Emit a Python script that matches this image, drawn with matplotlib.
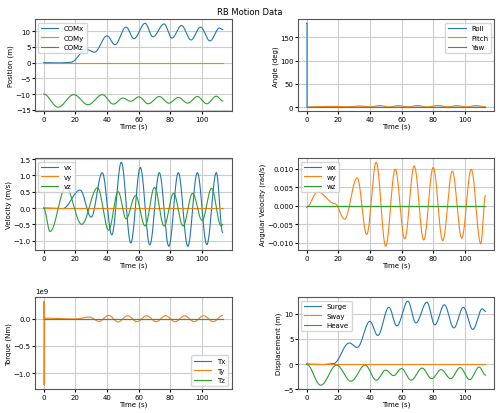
import numpy as np
import matplotlib
matplotlib.use("Agg")
import matplotlib.pyplot as plt

# extrema (time, value)
comx_t = [0, 10, 17, 27, 32, 40, 45, 52, 57, 64, 69, 76, 81, 87, 93, 99, 105, 111, 113]
comx_v = [0, -0.1, 0.1, 4.2, 3.3, 8.5, 5.7, 11.3, 7.6, 12.5, 8.2, 12.3, 7.8, 11.8, 7.2, 11.3, 6.9, 11.0, 10.5]
comz_t = [0, 9, 19, 28, 37, 44, 50, 55, 60, 66, 73, 79, 85, 91, 97, 103, 109, 113]
comz_v = [-10, -14.2, -10.2, -13.4, -10.2, -13.2, -11.3, -12.3, -10.9, -13.1, -10.8, -12.9, -11.1, -12.9, -10.8, -13.1, -10.7, -12.2]
heave_v = [0, -4.2, -0.2, -3.4, -0.2, -3.2, -1.2, -2.3, -0.9, -3.2, -0.8, -2.9, -1.1, -2.9, -0.7, -3.1, -0.6, -2.2]
pitch_t = [0.4, 5, 16, 25, 34, 40, 46, 52, 58, 64, 70, 76, 83, 89, 95, 101, 107, 113]
pitch_v = [0, 1.0, 2.0, 0.8, 2.8, 0.6, 3.8, 0.5, 3.5, 0.6, 3.7, 0.5, 3.9, 0.6, 3.5, 0.5, 3.8, 0.8]
roll_t = [0, 0.3, 0.31, 113]
roll_v = [180, 180, 0, 0]
vx_t = [0, 12, 23, 30, 37, 43, 49, 55, 61, 67, 73, 79, 85, 91, 97, 103, 109, 113]
vx_v = [0, -0.02, 0.55, -0.28, 1.08, -0.82, 1.4, -1.07, 1.24, -1.13, 1.08, -1.17, 1.08, -1.17, 1.08, -1.12, 1.08, -0.75]
vz_t = [0, 4, 14, 24, 34, 41, 47, 52, 58, 64, 70, 76, 82, 88, 94, 100, 106, 112, 113]
vz_v = [0, -0.72, 0.63, -0.5, 0.62, -0.68, 0.5, -0.33, 0.38, -0.55, 0.63, -0.55, 0.45, -0.55, 0.45, -0.38, 0.6, -0.55, -0.5]
wy_t = [0, 7, 18, 24, 32, 38, 44, 50, 56, 62, 68, 74, 80, 86, 92, 98, 104, 110, 113]
wy_v = [-0.0005, 0.0037, 0.0005, -0.0037, 0.0075, -0.0078, 0.0117, -0.011, 0.0098, -0.009, 0.0107, -0.0093, 0.0103, -0.0095, 0.0093, -0.0088, 0.0098, -0.0103, 0.0027]
ty_t = [0, 0.15, 0.3, 0.5, 20, 29, 35, 41, 47, 53, 59, 65, 71, 77, 83, 89, 95, 101, 107, 113]
ty_v = [0, 0.32e9, -1.22e9, 0.01e9, -0.005e9, 0.03e9, -0.05e9, 0.06e9, -0.06e9, 0.055e9, -0.055e9, 0.055e9, -0.055e9, 0.055e9, -0.055e9, 0.055e9, -0.055e9, 0.055e9, -0.055e9, 0.06e9]
t_end = 113


def smooth(kt, kv, n=2000):
    t = np.linspace(kt[0], kt[-1], n)
    kt = np.asarray(kt, float); kv = np.asarray(kv, float)
    i = np.clip(np.searchsorted(kt, t, side="right") - 1, 0, len(kt) - 2)
    s = (t - kt[i]) / (kt[i + 1] - kt[i])
    return t, kv[i] + (kv[i + 1] - kv[i]) * (1 - np.cos(np.pi * s)) / 2


fig, axes = plt.subplots(3, 2, figsize=(5.0, 4.14), dpi=100)
fig.suptitle("RB Motion Data", fontsize=6)
fs = 5
z = [0, t_end]

def style(ax, ylabel, loc):
    ax.set_xlabel("Time (s)", fontsize=fs, labelpad=1)
    ax.set_ylabel(ylabel, fontsize=fs, labelpad=1)
    ax.tick_params(labelsize=fs, length=2, pad=1)
    ax.grid(True, color="#cccccc", lw=0.8)
    ax.legend(loc=loc, fontsize=fs, handlelength=2.5)
    ax.set_xticks([0, 20, 40, 60, 80, 100])
    for sp in ax.spines.values():
        sp.set_color("#555555")

ax = axes[0, 0]
ax.plot(*smooth(comx_t, comx_v), lw=0.8, label="COMx")
ax.plot(z, [0, 0], lw=0.8, label="COMy")
ax.plot(*smooth(comz_t, comz_v), lw=0.8, label="COMz")
style(ax, "Position (m)", "upper left")

ax = axes[0, 1]
ax.plot(roll_t, roll_v, lw=0.8, label="Roll")
ax.plot(*smooth(pitch_t, pitch_v), lw=0.8, label="Pitch")
ax.plot(z, [0, 0], lw=0.8, label="Yaw")
style(ax, "Angle (deg)", "upper right")

ax = axes[1, 0]
ax.plot(*smooth(vx_t, vx_v), lw=0.8, label="vx")
ax.plot(z, [0, 0], lw=0.8, label="vy")
ax.plot(*smooth(vz_t, vz_v), lw=0.8, label="vz")
style(ax, "Velocity (m/s)", "upper left")

ax = axes[1, 1]
ax.plot(z, [0, 0], lw=0.8, label="wx")
ax.plot(*smooth(wy_t, wy_v), lw=0.8, label="wy")
ax.plot(z, [0, 0], lw=0.8, label="wz")
style(ax, "Angular Velocity (rad/s)", "upper left")

ax = axes[2, 0]
ax.plot(z, [0, 0], lw=0.8, label="Tx")
ax.plot(*smooth(ty_t, ty_v, 6000), lw=0.8, label="Ty")
ax.plot(z, [0, 0], lw=0.8, label="Tz")
style(ax, "Torque (Nm)", "lower right")
ax.yaxis.get_offset_text().set_fontsize(fs)

ax = axes[2, 1]
ax.plot(*smooth(comx_t, comx_v), lw=0.8, label="Surge")
ax.plot(z, [0, 0], lw=0.8, label="Sway")
ax.plot(*smooth(comz_t, heave_v), lw=0.8, label="Heave")
style(ax, "Displacement (m)", "upper left")

fig.tight_layout(pad=0.4, h_pad=1.4, w_pad=2.0)
fig.savefig("out.png", dpi=100)
